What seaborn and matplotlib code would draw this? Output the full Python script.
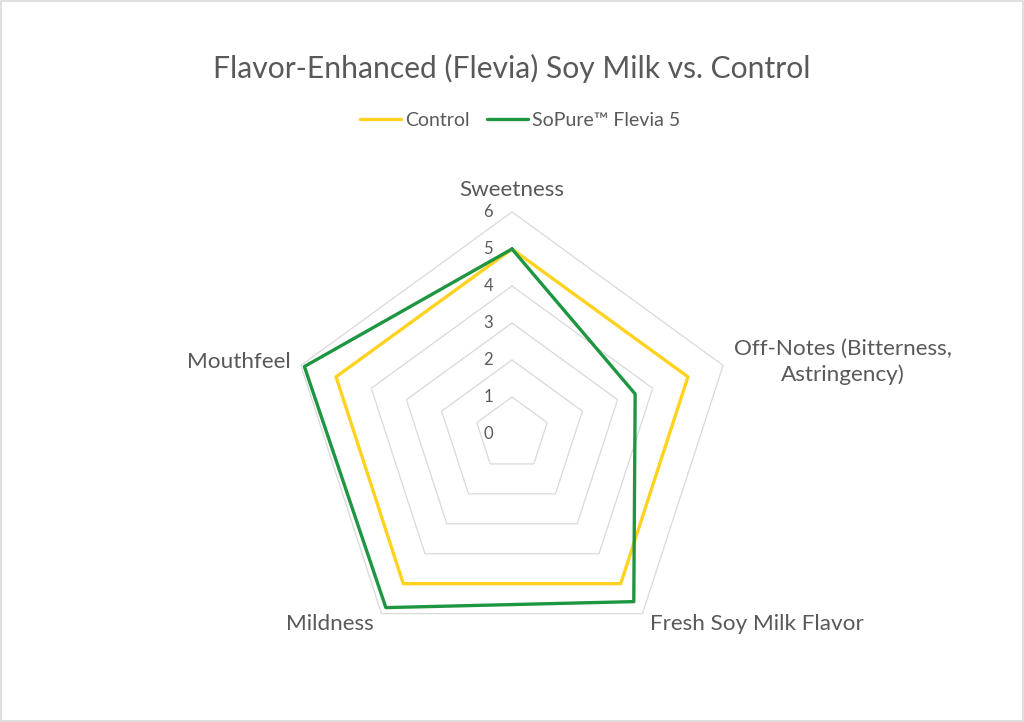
import matplotlib
matplotlib.use("Agg")
import matplotlib.pyplot as plt
import numpy as np
import pandas as pd
import seaborn as sns

# chart data
categories = ["Sweetness", "Off-Notes (Bitterness,\nAstringency)", "Fresh Soy Milk Flavor",
              "Mildness", "Mouthfeel"]
control = [5, 5, 5, 5, 5]
flevia = [5, 3.5, 5.6, 5.8, 5.9]
series_names = ["Control", "SoPure\u2122 Flevia 5"]
levels = [0, 1, 2, 3, 4, 5, 6]
title = "Flavor-Enhanced (Flevia) Soy Milk vs. Control"

sns.set_theme(style="white")
plt.rcParams["font.family"] = ["Lato", "DejaVu Sans"]
text_col = "#595959"
grid_col = "#D9D9D9"
palette = {series_names[0]: "#FFD21F", series_names[1]: "#1E9641"}

W, H = 1024, 722
fig = plt.figure(figsize=(W / 100, H / 100), dpi=100)
ax = fig.add_axes([0, 0, 1, 1])
unit = 37.0  # pixels per value unit
cx, cy = 512, 434
ax.set_xlim(-cx / unit, (W - cx) / unit)
ax.set_ylim(-(H - cy) / unit, cy / unit)
ax.set_axis_off()

n = len(categories)
ang = np.pi / 2 - np.arange(n) * 2 * np.pi / n
ang_c = np.append(ang, ang[0])

# pentagon grid
for lv in levels[1:]:
    ax.plot(lv * np.cos(ang_c), lv * np.sin(ang_c), color=grid_col, lw=0.9, zorder=1)

# series
rows = []
for name, vals in zip(series_names, [control, flevia]):
    v = np.append(vals, vals[0])
    for i, (a, r) in enumerate(zip(ang_c, v)):
        rows.append({"series": name, "order": i, "x": r * np.cos(a), "y": r * np.sin(a)})
df = pd.DataFrame(rows)
sns.lineplot(data=df, x="x", y="y", hue="series", sort=False, estimator=None,
             units="series", palette=palette, lw=2.4, ax=ax, legend=True, zorder=3)
ax.get_legend().remove()

# tick labels
for lv in levels:
    ax.text(-0.64, lv, str(lv), ha="center", va="center", fontsize=12, color=text_col)

# category labels
lab_r = [6.6, 6.3, 6.35, 6.35, 6.3]
for i, (cat, a) in enumerate(zip(categories, ang)):
    x, y = lab_r[i] * np.cos(a), lab_r[i] * np.sin(a)
    c = np.cos(a)
    ha = "center" if abs(c) < 1e-6 else ("left" if c > 0 else "right")
    ax.text(x, y, cat, ha=ha, va="center", multialignment="center",
            fontsize=16.2, color=text_col, linespacing=1.35)

fig.text(0.5, 1 - 68 / H, title, ha="center", va="center", fontsize=21.6, color=text_col)

handles = [plt.Line2D([], [], color=palette[s], lw=2.4) for s in series_names]
leg = fig.legend(handles, series_names, loc="center", bbox_to_anchor=(0.508, 1 - 120 / H),
                 ncol=2, frameon=False, fontsize=14, handlelength=2.1,
                 handletextpad=0.2, columnspacing=0.9)
for t in leg.get_texts():
    t.set_color(text_col)

fig.patches.append(plt.Rectangle((0.001, 0.001), 0.998, 0.997, transform=fig.transFigure,
                                 fill=False, edgecolor=grid_col, lw=1.2))

fig.savefig("out.png", dpi=100, facecolor="white")
